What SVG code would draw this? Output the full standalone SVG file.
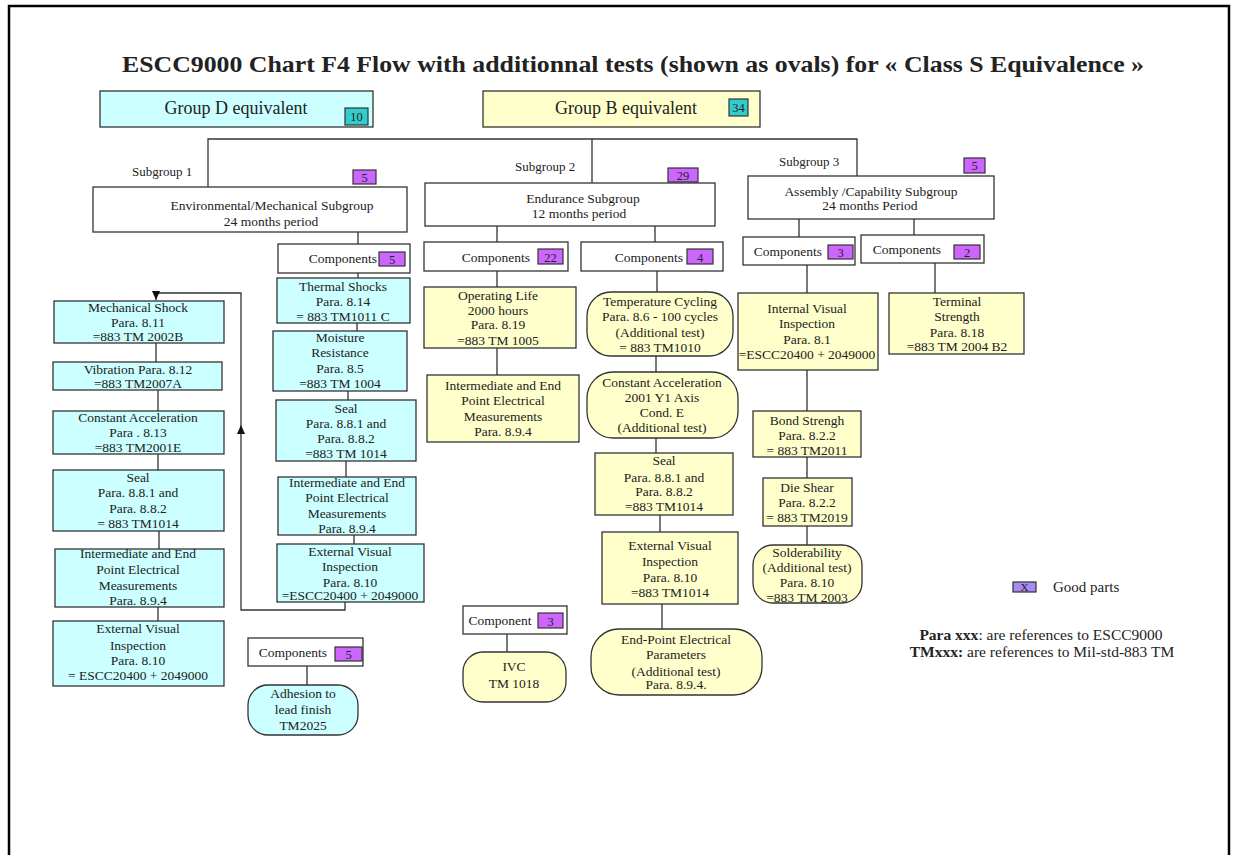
<svg xmlns="http://www.w3.org/2000/svg" width="1234" height="855" viewBox="0 0 1234 855">
<defs>
<style>
.cy{fill:#CCFFFF;stroke:#333;stroke-width:1.3}
.ye{fill:#FFFFCC;stroke:#333;stroke-width:1.3}
.wh{fill:#fff;stroke:#333;stroke-width:1.3}
.bp{fill:#CC66FF;stroke:#333;stroke-width:1.2}
.bc{fill:#33CCCC;stroke:#333;stroke-width:1.2}
.bl{fill:#A98AF0;stroke:#333;stroke-width:1.2}
.ln{stroke:#333;stroke-width:1.3;fill:none}
text{font-family:"Liberation Serif","Times New Roman",serif;fill:#222}
.t{font-size:13.5px;text-anchor:middle}
.b{font-size:12.5px;text-anchor:middle}
.s{font-size:13px}
</style>
<marker id="ah" markerWidth="10" markerHeight="10" refX="9" refY="5" orient="auto" markerUnits="userSpaceOnUse"><path d="M0,1 L9,5 L0,9 Z" fill="#111"/></marker>
</defs>
<rect x="0" y="0" width="1234" height="855" fill="#fff"/>
<rect x="9" y="6" width="1220" height="870" fill="none" stroke="#000" stroke-width="2.5"/>
<text x="633" y="72" font-size="24" font-weight="bold" text-anchor="middle" textLength="1022" lengthAdjust="spacingAndGlyphs">ESCC9000 Chart F4 Flow with additionnal  tests (shown  as ovals) for « Class S Equivalence »</text>

<g id="connectors">
<path class="ln" d="M208,187 V139 H857 V176 M592,139 V183"/>
<path class="ln" d="M358,232 V244 M497,226 V242 M655,226 V242 M799,219 V237 M914,219 V235"/>
<path class="ln" d="M358,273 V278 M497,271 V287 M657,271 V292 M807,265 V293 M935,263 V293 M307,666 V685 M507,634 V652"/>
<path class="ln" d="M357,323 V331 M348,391 V400 M346,461 V477 M354,535 V544"/>
<path class="ln" d="M156,343 V362 M158,390 V411 M158,454 V470 M159,531 V549 M158,607 V621"/>
<path class="ln" d="M497,348 V375 M656,356 V372 M656,438 V453 M660,515 V532 M662,604 V629"/>
<path class="ln" d="M807,370 V411 M807,457 V478 M807,526 V545"/>
<path class="ln" d="M345,602 V610 H241 V425" marker-end="url(#ah)"/>
<path class="ln" d="M241,425 V293 H156 V300" marker-end="url(#ah)"/>
</g>

<g id="groupD">
<rect class="cy" x="100" y="91" width="273" height="36"/>
<text x="236" y="114" font-size="18" text-anchor="middle">Group  D equivalent</text>
<rect class="bc" x="345" y="108" width="23" height="17"/>
<text class="b" x="356.5" y="121">10</text>
</g>
<g id="groupB">
<rect class="ye" x="483" y="91" width="277" height="36"/>
<text x="626" y="114" font-size="18" text-anchor="middle">Group  B equivalent</text>
<rect class="bc" x="729" y="99" width="19" height="17"/>
<text class="b" x="738.5" y="112">34</text>
</g>

<g id="subgroup1">
<text class="s" x="132" y="176">Subgroup 1</text>
<rect class="bp" x="353" y="170" width="23" height="14"/>
<text class="b" x="364.5" y="182">5</text>
<rect class="wh" x="93" y="187" width="314" height="45"/>
<text class="t" x="272" y="210">Environmental/Mechanical Subgroup</text>
<text class="t" x="271" y="226">24 months period</text>
</g>
<g id="subgroup2">
<text class="s" x="515" y="171">Subgroup 2</text>
<rect class="bp" x="668" y="168" width="30" height="14"/>
<text class="b" x="683" y="180">29</text>
<rect class="wh" x="425" y="183" width="290" height="43"/>
<text class="t" x="583" y="202.5">Endurance Subgroup</text>
<text class="t" x="579" y="217.5">12 months period</text>
</g>
<g id="subgroup3">
<text class="s" x="779" y="166">Subgroup 3</text>
<rect class="bp" x="964" y="158" width="21" height="15"/>
<text class="b" x="974.5" y="170">5</text>
<rect class="wh" x="748" y="176" width="246" height="43"/>
<text class="t" x="871" y="195.5">Assembly /Capability Subgroup</text>
<text class="t" x="870" y="209.5">24 months Period</text>
</g>

<g id="comp5a">
<rect class="wh" x="278" y="244" width="132" height="29"/>
<text class="t" x="343" y="262.5">Components</text>
<rect class="bp" x="379" y="252" width="26" height="14"/>
<text class="b" x="392" y="264">5</text>
</g>
<g id="comp22">
<rect class="wh" x="424" y="242" width="144" height="29"/>
<text class="t" x="496" y="261.5">Components</text>
<rect class="bp" x="538" y="249" width="25" height="15"/>
<text class="b" x="550.5" y="261.5">22</text>
</g>
<g id="comp4">
<rect class="wh" x="581" y="242" width="142" height="29"/>
<text class="t" x="649" y="261.5">Components</text>
<rect class="bp" x="687" y="249" width="26" height="15"/>
<text class="b" x="700" y="261.5">4</text>
</g>
<g id="comp3">
<rect class="wh" x="743" y="237" width="112" height="28"/>
<text class="t" x="788" y="255.5">Components</text>
<rect class="bp" x="828" y="245" width="25" height="14"/>
<text class="b" x="840.5" y="257">3</text>
</g>
<g id="comp2">
<rect class="wh" x="861" y="235" width="123" height="28"/>
<text class="t" x="907" y="253.5">Components</text>
<rect class="bp" x="954" y="245" width="26" height="14"/>
<text class="b" x="967" y="257">2</text>
</g>
<g id="comp5b">
<rect class="wh" x="248" y="638" width="115" height="28"/>
<text class="t" x="293" y="656.5">Components</text>
<rect class="bp" x="335" y="647" width="27" height="14"/>
<text class="b" x="348.5" y="659">5</text>
</g>
<g id="compIVC">
<rect class="wh" x="463" y="606" width="104" height="28"/>
<text class="t" x="500" y="624.5">Component</text>
<rect class="bp" x="538" y="613" width="25" height="15"/>
<text class="b" x="550.5" y="625.5">3</text>
</g>

<g id="thermal">
<rect class="cy" x="277" y="278" width="133" height="45"/>
<text class="t" x="343" y="290.5">Thermal Shocks</text>
<text class="t" x="343" y="305.5">Para. 8.14</text>
<text class="t" x="343" y="320.5">= 883 TM1011 C</text>
</g>
<g id="moisture">
<rect class="cy" x="273" y="331" width="134" height="60"/>
<text class="t" x="340" y="341.5">Moisture</text>
<text class="t" x="340" y="356.5">Resistance</text>
<text class="t" x="340" y="372.5">Para. 8.5</text>
<text class="t" x="340" y="387.5">=883 TM 1004</text>
</g>
<g id="seal1b">
<rect class="cy" x="276" y="400" width="140" height="61"/>
<text class="t" x="346" y="412.5">Seal</text>
<text class="t" x="346" y="427.5">Para. 8.8.1 and</text>
<text class="t" x="346" y="442.5">Para. 8.8.2</text>
<text class="t" x="346" y="457.5">=883 TM 1014</text>
</g>
<g id="inter1b">
<rect class="cy" x="278" y="477" width="138" height="58"/>
<text class="t" x="347" y="486.5">Intermediate and End</text>
<text class="t" x="347" y="501.5">Point Electrical</text>
<text class="t" x="347" y="517.5">Measurements</text>
<text class="t" x="347" y="532.5">Para. 8.9.4</text>
</g>
<g id="ext1b">
<rect class="cy" x="277" y="544" width="147" height="58"/>
<text class="t" x="350" y="555.5">External Visual</text>
<text class="t" x="350" y="570.5">Inspection</text>
<text class="t" x="350" y="586.5">Para. 8.10</text>
<text class="t" x="350" y="599.5">=ESCC20400 + 2049000</text>
</g>

<g id="mechshock">
<rect class="cy" x="54" y="301" width="170" height="42"/>
<text class="t" x="138" y="311.5">Mechanical Shock</text>
<text class="t" x="138" y="326.5">Para. 8.11</text>
<text class="t" x="138" y="341">=883 TM 2002B</text>
</g>
<g id="vibration">
<rect class="cy" x="53" y="362" width="169" height="28"/>
<text class="t" x="138" y="373.5">Vibration Para. 8.12</text>
<text class="t" x="138" y="387.5">=883 TM2007A</text>
</g>
<g id="constacc1">
<rect class="cy" x="53" y="411" width="171" height="43"/>
<text class="t" x="138" y="421.5">Constant Acceleration</text>
<text class="t" x="138" y="436.5">Para . 8.13</text>
<text class="t" x="138" y="451.5">=883 TM2001E</text>
</g>
<g id="seal1a">
<rect class="cy" x="53" y="470" width="171" height="61"/>
<text class="t" x="138" y="481.5">Seal</text>
<text class="t" x="138" y="496.5">Para. 8.8.1 and</text>
<text class="t" x="138" y="512.5">Para. 8.8.2</text>
<text class="t" x="138" y="527.5">= 883 TM1014</text>
</g>
<g id="inter1a">
<rect class="cy" x="55" y="549" width="169" height="58"/>
<text class="t" x="138" y="557.5">Intermediate and End</text>
<text class="t" x="138" y="573.5">Point Electrical</text>
<text class="t" x="138" y="589.5">Measurements</text>
<text class="t" x="138" y="604.5">Para. 8.9.4</text>
</g>
<g id="ext1a">
<rect class="cy" x="53" y="621" width="171" height="65"/>
<text class="t" x="138" y="632.5">External Visual</text>
<text class="t" x="138" y="649.5">Inspection</text>
<text class="t" x="138" y="664.5">Para. 8.10</text>
<text class="t" x="138" y="679.5">= ESCC20400 + 2049000</text>
</g>
<g id="adhesion">
<rect class="cy" x="248" y="685" width="110" height="50" rx="20"/>
<text class="t" x="303" y="697.5">Adhesion to</text>
<text class="t" x="303" y="714">lead finish</text>
<text class="t" x="303" y="730">TM2025</text>
</g>

<g id="oplife">
<rect class="ye" x="424" y="287" width="152" height="61"/>
<text class="t" x="498" y="299.5">Operating Life</text>
<text class="t" x="498" y="314.5">2000 hours</text>
<text class="t" x="498" y="328.5">Para. 8.19</text>
<text class="t" x="498" y="344.5">=883 TM 1005</text>
</g>
<g id="inter2">
<rect class="ye" x="427" y="375" width="152" height="67"/>
<text class="t" x="503" y="389.5">Intermediate and End</text>
<text class="t" x="503" y="404.5">Point Electrical</text>
<text class="t" x="503" y="420.5">Measurements</text>
<text class="t" x="503" y="435.5">Para. 8.9.4</text>
</g>
<g id="ivc">
<rect class="ye" x="463" y="652" width="103" height="50" rx="20"/>
<text class="t" x="514" y="671">IVC</text>
<text class="t" x="514" y="688">TM 1018</text>
</g>
<g id="tempcyc">
<rect class="ye" x="587" y="292" width="146" height="64" rx="24"/>
<text class="t" x="660" y="305.5">Temperature Cycling</text>
<text class="t" x="660" y="320.5">Para. 8.6 -  100 cycles</text>
<text class="t" x="660" y="336.5">(Additional test)</text>
<text class="t" x="660" y="351.5">= 883 TM1010</text>
</g>
<g id="constacc2">
<rect class="ye" x="587" y="372" width="151" height="66" rx="26"/>
<text class="t" x="662" y="386.5">Constant Acceleration</text>
<text class="t" x="662" y="401.5">2001 Y1 Axis</text>
<text class="t" x="662" y="416.5">Cond. E</text>
<text class="t" x="662" y="431.5">(Additional test)</text>
</g>
<g id="seal2">
<rect class="ye" x="595" y="453" width="138" height="62"/>
<text class="t" x="664" y="464.5">Seal</text>
<text class="t" x="664" y="481.5">Para. 8.8.1 and</text>
<text class="t" x="664" y="495.5">Para. 8.8.2</text>
<text class="t" x="664" y="510.5">=883 TM1014</text>
</g>
<g id="ext2">
<rect class="ye" x="602" y="532" width="136" height="72"/>
<text class="t" x="670" y="549.5">External Visual</text>
<text class="t" x="670" y="565.5">Inspection</text>
<text class="t" x="670" y="581.5">Para. 8.10</text>
<text class="t" x="670" y="596.5">=883 TM1014</text>
</g>
<g id="endpoint">
<rect class="ye" x="591" y="629" width="171" height="66" rx="28"/>
<text class="t" x="676" y="643.5">End-Point Electrical</text>
<text class="t" x="676" y="658.5">Parameters</text>
<text class="t" x="676" y="675.5">(Additional test)</text>
<text class="t" x="676" y="688.5">Para. 8.9.4.</text>
</g>

<g id="intvis">
<rect class="ye" x="738" y="293" width="140" height="77"/>
<text class="t" x="807" y="312.5">Internal Visual</text>
<text class="t" x="807" y="327.5">Inspection</text>
<text class="t" x="807" y="343.5">Para. 8.1</text>
<text class="t" x="807" y="358.5">=ESCC20400 + 2049000</text>
</g>
<g id="bond">
<rect class="ye" x="753" y="411" width="108" height="46"/>
<text class="t" x="807" y="424.5">Bond Strengh</text>
<text class="t" x="807" y="439.5">Para. 8.2.2</text>
<text class="t" x="807" y="455">= 883 TM2011</text>
</g>
<g id="dieshear">
<rect class="ye" x="763" y="478" width="89" height="48"/>
<text class="t" x="807" y="491.5">Die Shear</text>
<text class="t" x="807" y="506.5">Para. 8.2.2</text>
<text class="t" x="807" y="521.5">= 883 TM2019</text>
</g>
<g id="solder">
<rect class="ye" x="753" y="545" width="109" height="58" rx="20"/>
<text class="t" x="807" y="556.5">Solderability</text>
<text class="t" x="807" y="571.5">(Additional test)</text>
<text class="t" x="807" y="586.5">Para. 8.10</text>
<text class="t" x="807" y="601.5">=883 TM 2003</text>
</g>
<g id="terminal">
<rect class="ye" x="889" y="293" width="135" height="61"/>
<text class="t" x="957" y="305.5">Terminal</text>
<text class="t" x="957" y="320.5">Strength</text>
<text class="t" x="957" y="336.5">Para. 8.18</text>
<text class="t" x="957" y="350.5">=883 TM 2004 B2</text>
</g>

<g id="legend">
<rect class="bl" x="1013" y="582" width="23" height="10"/>
<text x="1024.5" y="591" font-size="11" text-anchor="middle">X</text>
<text x="1053" y="592" font-size="15">Good parts</text>
<text x="1041" y="640" font-size="15.5" text-anchor="middle"><tspan font-weight="bold">Para xxx</tspan>:   are references to ESCC9000</text>
<text x="1042" y="657" font-size="15.5" text-anchor="middle"><tspan font-weight="bold">TMxxx:</tspan>   are references to Mil-std-883  TM</text>
</g>
</svg>
